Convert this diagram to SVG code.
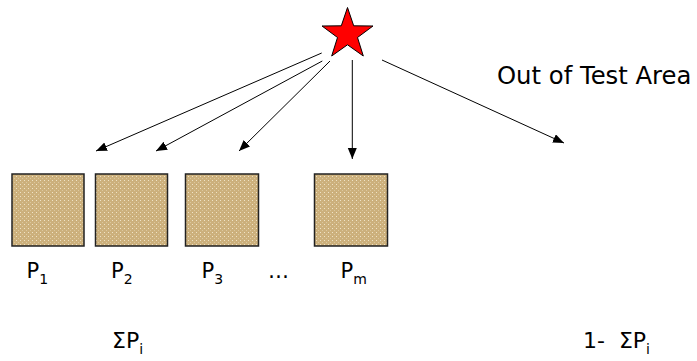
<svg xmlns="http://www.w3.org/2000/svg" width="697" height="361" viewBox="0 0 697 361">
<style>
  .lbl { font-family: "DejaVu Sans", Verdana, sans-serif; fill: #000; }
  .big { font-size: 21px; }
  .sub { font-size: 14px; }
  .conn { stroke: #000; stroke-width: 1; fill: none; marker-end: url(#ah); }
  .box { fill: url(#dots); stroke: #222; stroke-width: 1.5; }
</style>
<defs>
  <marker id="ah" markerUnits="userSpaceOnUse" markerWidth="12" markerHeight="10" refX="11" refY="4.5" orient="auto">
    <path d="M0,0 L11,4.5 L0,9 Z" fill="#000"/>
  </marker>
  <pattern id="dots" patternUnits="userSpaceOnUse" width="4" height="4">
    <rect width="4" height="4" fill="#ccb07c"/>
    <rect x="0" y="0" width="1" height="1" fill="#efe3c6"/>
    <rect x="2" y="2" width="1" height="1" fill="#dcc89e"/>
  </pattern>
</defs>

<g id="star">
  <polygon points="347.5,7.5 353.7,25.8 373,26 357.5,37.5 363.3,56 347.5,44.8 331.7,56 337.5,37.5 322,26 341.3,25.8" fill="#ff0000" stroke="#000" stroke-width="1"/>
</g>

<g id="connectors">
  <line class="conn" x1="321.7" y1="53" x2="96" y2="151"/>
  <line class="conn" x1="322.3" y1="61" x2="156" y2="151"/>
  <line class="conn" x1="330" y1="61" x2="239" y2="151"/>
  <line class="conn" x1="352.3" y1="60" x2="352.3" y2="159"/>
  <line class="conn" x1="382" y1="60" x2="564" y2="143"/>
</g>

<g id="out-label">
  <text class="lbl" x="497" y="84" font-size="24.3">Out of Test Area</text>
</g>

<g id="p1">
  <rect class="box" x="12" y="174" width="72" height="72"/>
  <text class="lbl big" x="26.5" y="278">P<tspan class="sub" dy="6">1</tspan></text>
</g>
<g id="p2">
  <rect class="box" x="95.5" y="174" width="72" height="72"/>
  <text class="lbl big" x="111" y="278">P<tspan class="sub" dy="6">2</tspan></text>
</g>
<g id="p3">
  <rect class="box" x="185.5" y="174" width="73" height="72"/>
  <text class="lbl big" x="201.5" y="278">P<tspan class="sub" dy="6">3</tspan></text>
</g>
<g id="dots-label">
  <text class="lbl big" x="268" y="278">…</text>
</g>
<g id="pm">
  <rect class="box" x="314.5" y="174" width="73" height="72" stroke="#3a3020"/>
  <text class="lbl big" x="340.5" y="278">P<tspan class="sub" dy="6">m</tspan></text>
</g>

<g id="sum">
  <text class="lbl" x="112" y="348" font-size="22">ΣP<tspan class="sub" dy="6">i</tspan></text>
</g>
<g id="one-minus-sum">
  <text class="lbl" x="583" y="348" font-size="22" xml:space="preserve">1-  ΣP<tspan class="sub" dy="6">i</tspan></text>
</g>
</svg>
